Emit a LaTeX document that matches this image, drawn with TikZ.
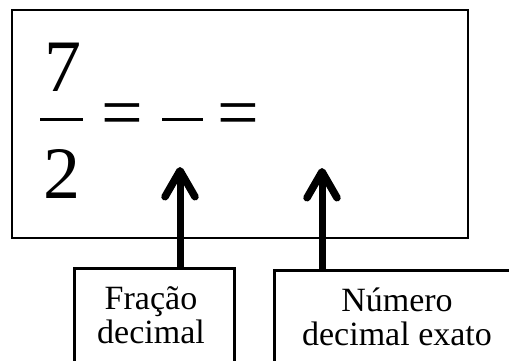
\documentclass[tikz,border=0pt]{standalone}
\usepackage{fontspec}
\setmainfont{Liberation Serif}
\usetikzlibrary{arrows.meta}
\begin{document}
\begin{tikzpicture}[x=1pt,y=-1pt,
  frame/.style={draw=black,line width=1.6pt,inner sep=0pt},
  lblbox/.style={draw=black,line width=2.6pt,inner sep=0pt,anchor=north west},
  lbltext/.style={align=center,inner sep=0pt,font=\fontsize{34}{34}\selectfont},
  bignum/.style={inner sep=0pt,font=\fontsize{74}{80}\selectfont},
  barline/.style={line width=3.4pt},
  bigarrow/.style={line width=7pt,-{Straight Barb[length=26pt,width=30pt,line width=7.5pt,round]}}]
\useasboundingbox (0,0) rectangle (509,361);
\clip (0,0) rectangle (509,361);
\fill[white] (0,0) rectangle (509,361);
% main frame
\node[frame,minimum width=456pt,minimum height=228pt,anchor=north west] (main) at (11,9) {};
% fraction 7/2 = - =
\node[bignum] (n7) at (62.5,67) {7};
\node[bignum] (n2) at (62,174) {2};
\coordinate (barL) at (40,119.5);
\coordinate (barR) at (83,119.5);
\draw[barline] (barL) -- (barR);
\node[bignum] (eq1) at (122.5,120.5) {=};
\coordinate (dashL) at (162,119.5);
\coordinate (dashR) at (203,119.5);
\draw[barline] (dashL) -- (dashR);
\node[bignum] (eq2) at (238.5,120.5) {=};
% label boxes
\node[lblbox,minimum width=160pt,minimum height=110pt] (l1) at (73,267) {};
\node[lbltext] (t1) at (151,315) {Fração\\decimal};
\node[lblbox,minimum width=250pt,minimum height=110pt] (l2) at (273,269) {};
\node[lbltext] (t2) at (397,317) {Número\\decimal exato};
% arrows
\coordinate (tip1) at (180,167);
\coordinate (tip2) at (322,168);
\draw[bigarrow] (tip1 |- l1.north) -- (tip1);
\draw[bigarrow] (tip2 |- l2.north) -- (tip2);
\end{tikzpicture}
\end{document}
